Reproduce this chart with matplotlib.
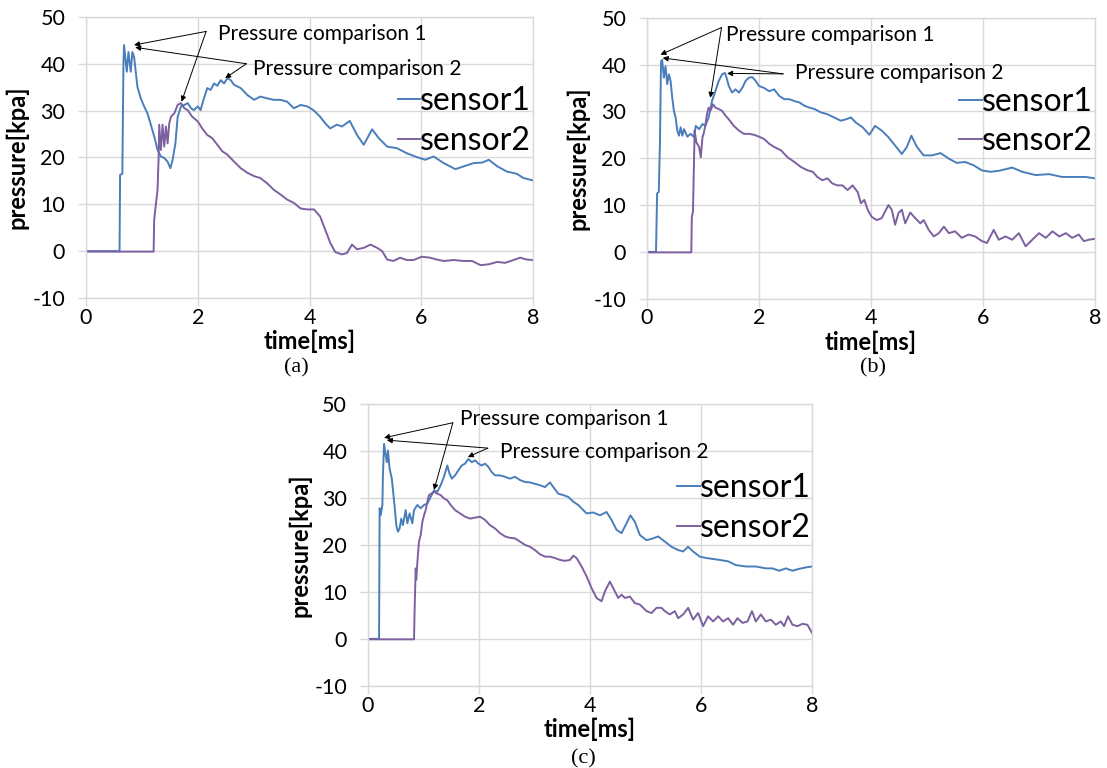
import matplotlib
matplotlib.use('Agg')
import matplotlib.pyplot as plt

plt.rcParams['font.family'] = ['Lato', 'DejaVu Sans']
plt.rcParams['axes.unicode_minus'] = False

# ---- panel (a) ----
t_a1 = [0, 0.60, 0.61, 0.65, 0.67, 0.68, 0.73, 0.76, 0.80, 0.83,
        0.86, 0.92, 0.98, 1.04, 1.10, 1.16, 1.22, 1.28, 1.34, 1.40,
        1.46, 1.51, 1.55, 1.60, 1.64, 1.70, 1.76, 1.82, 1.88, 1.93,
        2.00, 2.05, 2.11, 2.17, 2.23, 2.29, 2.35, 2.41, 2.47, 2.53,
        2.59, 2.65, 2.77, 2.89, 3.01, 3.12, 3.24, 3.36, 3.48, 3.60,
        3.72, 3.84, 3.96, 4.07, 4.19, 4.28, 4.37, 4.49, 4.58, 4.72,
        4.85, 4.97, 5.12, 5.24, 5.39, 5.56, 5.74, 5.89, 6.07, 6.22,
        6.40, 6.61, 6.76, 6.94, 7.09, 7.21, 7.36, 7.53, 7.71, 7.83, 8.00]
p_a1 = [0, 0, 16.3, 16.5, 40, 44, 38.3, 42.5, 38.3, 42.5,
        41.5, 35.1, 32.6, 30.9, 29.4, 27, 24.5, 21.6, 20.2, 19.9,
        19.1, 17.7, 19.5, 23, 28.7, 30.9, 31.2, 31.6, 30.5, 30.1,
        30.9, 30.1, 32.6, 34.8, 34.4, 35.8, 35.3, 36.5, 35.8, 36.9,
        36.5, 35.5, 34.8, 33.3, 32.3, 33, 32.6, 32.3, 32.3, 31.9,
        30.5, 31.2, 30.9, 30.1, 28.7, 27.3, 26.2, 27, 26.6, 27.8,
        24.8, 22.7, 26, 24.1, 22.3, 22, 20.9, 20.2, 19.5, 20.2,
        18.8, 17.5, 18.1, 18.8, 18.9, 19.5, 18.1, 17, 16.5, 15.6, 15.1]
t_a2 = [0, 1.21, 1.22, 1.24, 1.28, 1.30, 1.31, 1.34, 1.37, 1.40,
        1.43, 1.46, 1.49, 1.52, 1.58, 1.64, 1.70, 1.76, 1.82, 1.90,
        2.00, 2.08, 2.17, 2.26, 2.35, 2.44, 2.53, 2.65, 2.77, 2.89,
        3.01, 3.12, 3.24, 3.36, 3.48, 3.60, 3.72, 3.84, 3.96, 4.08,
        4.19, 4.28, 4.37, 4.46, 4.58, 4.67, 4.76, 4.85, 4.97, 5.09,
        5.21, 5.30, 5.39, 5.50, 5.62, 5.74, 5.86, 6.01, 6.16, 6.28,
        6.40, 6.58, 6.76, 6.91, 7.06, 7.21, 7.36, 7.50, 7.65, 7.77,
        7.89, 8.00]
p_a2 = [-0.1, -0.1, 6.7, 8.9, 13.1, 20.2, 27, 21.6, 27, 22.3,
        26.6, 23, 27.3, 28.7, 29.4, 31.2, 31.6, 30.5, 30.1, 28.7,
        27.7, 26.2, 24.8, 24.1, 22.7, 21.3, 20.6, 19.1, 17.7, 16.7,
        16, 15.6, 14.5, 13.1, 12.1, 11, 10.3, 9.1, 8.9, 8.9,
        7.4, 4.6, 1.8, -0.2, -0.7, -0.4, 1.4, 0.4, 0.7, 1.4,
        0.7, 0, -1.8, -2.1, -1.4, -1.9, -1.9, -1.2, -1.4, -1.8,
        -2.1, -1.9, -2.1, -2.1, -3, -2.8, -2.3, -2.5, -1.9, -1.4,
        -1.8, -1.9]

# ---- panel (b) ----
t_b1 = [0, 0.16, 0.18, 0.21, 0.23, 0.25, 0.27, 0.30, 0.33, 0.36,
        0.39, 0.42, 0.45, 0.48, 0.51, 0.54, 0.57, 0.60, 0.63, 0.66,
        0.72, 0.78, 0.84, 0.87, 0.93, 0.99, 1.04, 1.10, 1.16, 1.22,
        1.28, 1.34, 1.39, 1.42, 1.46, 1.52, 1.58, 1.64, 1.70, 1.76,
        1.82, 1.88, 1.94, 2.00, 2.09, 2.18, 2.27, 2.36, 2.45, 2.54,
        2.63, 2.72, 2.81, 2.90, 2.99, 3.10, 3.22, 3.34, 3.46, 3.55,
        3.64, 3.73, 3.85, 3.97, 4.07, 4.19, 4.31, 4.43, 4.55, 4.64,
        4.72, 4.82, 4.94, 5.09, 5.24, 5.39, 5.53, 5.68, 5.83, 5.98,
        6.13, 6.28, 6.52, 6.70, 6.94, 7.18, 7.41, 7.65, 7.83, 8.00]
p_b1 = [0, 0, 12.5, 12.8, 23, 40.7, 41, 37.2, 39.6, 35.8,
        37.9, 36.5, 32.9, 30.1, 28.7, 25.9, 24.8, 26.6, 24.8, 26.2,
        24.6, 25.2, 24.5, 26.9, 26.2, 27.3, 26.9, 28.7, 32.2, 34.3,
        36.5, 37.9, 38.2, 37.2, 35.4, 34, 34.7, 34, 35, 36.5,
        37.2, 37.3, 36.5, 35.4, 35, 34.3, 34.7, 33.3, 32.6, 32.6,
        32.2, 31.9, 31.2, 30.8, 30.5, 29.8, 29.4, 28.7, 28, 28.3,
        28.7, 27.6, 26.6, 25, 26.9, 25.9, 24.5, 22.7, 20.9, 22.4,
        24.8, 22.4, 20.6, 20.6, 21.1, 19.9, 19, 19.2, 18.5, 17.4,
        17.1, 17.3, 18, 17.1, 16.4, 16.6, 16, 16, 16, 15.7]
t_b2 = [0, 0.79, 0.80, 0.82, 0.84, 0.85, 0.88, 0.93, 0.96, 0.99,
        1.01, 1.04, 1.07, 1.10, 1.13, 1.18, 1.22, 1.28, 1.34, 1.40,
        1.46, 1.55, 1.64, 1.73, 1.82, 1.91, 2.00, 2.09, 2.18, 2.27,
        2.39, 2.51, 2.63, 2.75, 2.87, 2.96, 3.04, 3.13, 3.22, 3.31,
        3.40, 3.49, 3.58, 3.67, 3.76, 3.82, 3.88, 3.94, 4.01, 4.10,
        4.19, 4.25, 4.31, 4.37, 4.43, 4.49, 4.55, 4.61, 4.70, 4.79,
        4.88, 4.94, 5.03, 5.12, 5.21, 5.30, 5.39, 5.50, 5.62, 5.74,
        5.86, 5.98, 6.07, 6.19, 6.28, 6.40, 6.52, 6.64, 6.76, 6.88,
        7.00, 7.12, 7.24, 7.36, 7.48, 7.59, 7.71, 7.80, 7.89, 8.00]
p_b2 = [-0.1, -0.1, 7.5, 8.6, 20.2, 25.9, 23.4, 22.4, 20.2, 24.5,
        25.2, 26.9, 29.4, 30.8, 30.1, 31.5, 30.8, 30.5, 30.1, 29.1,
        28.3, 26.9, 25.9, 25.2, 25.2, 25, 24.6, 24.1, 23.1, 22.4,
        21.7, 20.2, 19.2, 18.1, 17.4, 17.1, 16, 15.3, 15.7, 14.6,
        14.2, 14.2, 13.2, 14.2, 12.8, 10.4, 11.1, 9, 7.5, 6.8,
        7.2, 8.6, 10, 9, 5.8, 8.3, 9, 6.1, 8.4, 7.2,
        6.1, 6.8, 4.7, 3.3, 4, 5.4, 4, 4.4, 3, 3.7,
        3.3, 2.3, 1.9, 4.7, 2.6, 3.3, 2.6, 4, 1.2, 2.6,
        4, 3, 4.4, 3.3, 4, 3, 3.7, 2.3, 2.6, 2.8]

# ---- panel (c) ----
t_c1 = [0, 0.20, 0.21, 0.23, 0.26, 0.27, 0.29, 0.31, 0.34, 0.36,
        0.39, 0.43, 0.46, 0.49, 0.51, 0.54, 0.57, 0.60, 0.63, 0.68,
        0.71, 0.75, 0.80, 0.83, 0.89, 0.95, 1.01, 1.07, 1.13, 1.19,
        1.25, 1.31, 1.37, 1.43, 1.47, 1.51, 1.57, 1.63, 1.69, 1.75,
        1.81, 1.87, 1.93, 1.99, 2.05, 2.11, 2.17, 2.23, 2.29, 2.38,
        2.47, 2.56, 2.65, 2.74, 2.83, 2.92, 3.01, 3.10, 3.19, 3.28,
        3.34, 3.43, 3.52, 3.61, 3.70, 3.79, 3.88, 3.94, 4.06, 4.18,
        4.30, 4.39, 4.48, 4.57, 4.66, 4.73, 4.81, 4.90, 5.02, 5.14,
        5.23, 5.35, 5.47, 5.59, 5.68, 5.77, 5.86, 5.98, 6.10, 6.22,
        6.34, 6.49, 6.63, 6.81, 6.99, 7.17, 7.29, 7.41, 7.53, 7.65,
        7.77, 7.89, 8.00]
p_c1 = [0, 0, 27.8, 26.3, 28.5, 35, 41.5, 39.8, 37.6, 40.1,
        36.2, 34.1, 30.6, 27, 24.2, 22.8, 23.5, 25.6, 24.2, 27.4,
        24.6, 26.7, 24.6, 27.4, 28.5, 27.8, 28.5, 28.8, 30.2, 31.6,
        31.3, 32.7, 34.5, 36.9, 35.2, 34.1, 34.8, 35.9, 36.9, 37.3,
        38.3, 37.6, 38, 37.3, 36.9, 37.3, 36.6, 35.5, 34.8, 34.8,
        34.5, 34.1, 34.5, 33.8, 33.4, 33.3, 33, 32.7, 32.3, 33.3,
        32.3, 30.9, 30.6, 30.2, 29.2, 28.5, 27.4, 26.7, 26.9, 26.3,
        27, 25.3, 23.2, 22.5, 24.6, 26.3, 24.9, 22.1, 21, 21.4,
        21.8, 20.7, 19.6, 18.9, 18.6, 19.6, 18.6, 17.5, 17.2, 17,
        16.8, 16.5, 15.7, 15.4, 15.4, 15, 15, 14.5, 15, 14.5,
        14.9, 15.2, 15.4]
t_c2 = [0, 0.83, 0.84, 0.86, 0.87, 0.90, 0.92, 0.95, 0.98, 1.01,
        1.04, 1.07, 1.10, 1.14, 1.19, 1.25, 1.31, 1.37, 1.43, 1.49,
        1.57, 1.66, 1.75, 1.84, 1.93, 2.02, 2.11, 2.20, 2.29, 2.38,
        2.47, 2.56, 2.65, 2.74, 2.83, 2.92, 3.01, 3.10, 3.19, 3.28,
        3.37, 3.46, 3.55, 3.64, 3.70, 3.76, 3.85, 3.94, 4.03, 4.12,
        4.21, 4.27, 4.36, 4.42, 4.51, 4.57, 4.63, 4.72, 4.81, 4.90,
        5.02, 5.11, 5.20, 5.29, 5.35, 5.44, 5.53, 5.59, 5.68, 5.77,
        5.86, 5.95, 6.04, 6.13, 6.22, 6.31, 6.40, 6.49, 6.58, 6.66,
        6.75, 6.84, 6.92, 6.99, 7.08, 7.17, 7.26, 7.35, 7.44, 7.50,
        7.57, 7.65, 7.74, 7.83, 7.92, 8.00]
p_c2 = [-0.1, -0.1, 5.9, 15, 12.6, 17.9, 20.7, 22.1, 24.9, 26.3,
        27.4, 29.2, 30.6, 30.9, 31.3, 30.9, 30.6, 29.9, 29.5, 28.5,
        27.4, 26.7, 26, 25.6, 25.8, 26, 25.3, 24.2, 23.5, 22.5,
        21.8, 21.5, 21.4, 20.7, 20, 19.6, 18.9, 18, 17.5, 17.5,
        17.2, 16.8, 16.6, 16.8, 17.7, 17.2, 15.4, 13.3, 10.8, 8.7,
        8, 10.1, 12.2, 10.8, 8.7, 9.4, 8.7, 9, 7.6, 7.3,
        5.9, 5.5, 6.6, 6.6, 5.9, 5.2, 5.9, 4.4, 5.2, 6.6,
        4.1, 5.5, 2.7, 4.8, 3.7, 4.8, 3.7, 4.4, 3, 4.4,
        3.4, 3.7, 5.9, 3.7, 5.2, 3.7, 4.1, 3, 3.7, 2.7,
        4.8, 3, 2.7, 3.2, 3, 1.3]

x_ticks = [0, 2, 4, 6, 8]
y_ticks = [-10, 0, 10, 20, 30, 40, 50]
labels = ['sensor1', 'sensor2']
note1 = 'Pressure comparison 1'
note2 = 'Pressure comparison 2'

BLUE = '#4a7ebb'
PURPLE = '#7d60a0'
GRID = '#d9d9d9'

# panel: rect, data, caption pos, annotation geometry (text pos, arrow origin, targets)
panels = [
    dict(rect=[0.0777, 0.612, 0.4038, 0.366], t1=t_a1, p1=p_a1, t2=t_a2, p2=p_a2,
         cap='(a)', cap_xy=(0.268, 0.521),
         n1=((2.36, 46.4), (2.15, 46.9), [(0.86, 44.0), (1.71, 31.9)]),
         n2=((2.99, 38.9), (2.87, 40.0), [(0.88, 43.5), (2.49, 36.9)])),
    dict(rect=[0.5845, 0.611, 0.4047, 0.366], t1=t_b1, p1=p_b1, t2=t_b2, p2=p_b2,
         cap='(b)', cap_xy=(0.789, 0.521),
         n1=((1.41, 46.2), (1.33, 47.9), [(0.24, 42.1), (1.13, 32.9)]),
         n2=((2.64, 38.1), (2.43, 38.0), [(0.28, 41.4), (1.43, 38.1)])),
    dict(rect=[0.3324, 0.107, 0.401, 0.367], t1=t_c1, p1=p_c1, t2=t_c2, p2=p_c2,
         cap='(c)', cap_xy=(0.527, 0.012),
         n1=((1.66, 46.8), (1.53, 46.0), [(0.29, 42.8), (1.19, 31.7)]),
         n2=((2.38, 39.8), (2.16, 40.6), [(0.34, 42.3), (1.80, 38.7)])),
]

fig = plt.figure(figsize=(11.07, 7.68), dpi=100)

for pn in panels:
    ax = fig.add_axes(pn['rect'])
    ax.plot(pn['t1'], pn['p1'], color=BLUE, lw=1.4, label=labels[0])
    ax.plot(pn['t2'], pn['p2'], color=PURPLE, lw=1.4, label=labels[1])
    ax.set_xlim(0, 8)
    ax.set_ylim(-10, 50)
    ax.set_xticks(x_ticks)
    ax.set_yticks(y_ticks)
    ax.grid(True, color=GRID, lw=1.0)
    ax.set_axisbelow(True)
    for s in ax.spines.values():
        s.set_color(GRID)
        s.set_linewidth(1.0)
    ax.tick_params(axis='both', length=6, color=GRID, width=1.0, labelsize=15.5)
    ax.tick_params(axis='y', pad=9)
    ax.tick_params(axis='x', pad=1)
    ax.set_xlabel('time[ms]', fontsize=17, fontweight='bold')
    ax.set_ylabel('pressure[kpa]', fontsize=17, fontweight='bold')
    ax.xaxis.set_label_coords(0.5, -0.112)
    ax.yaxis.set_label_coords(-0.128, 0.5)

    for key, txt in (('n1', note1), ('n2', note2)):
        txy, org, targets = pn[key]
        ax.text(txy[0], txy[1], txt, fontsize=15, va='center', ha='left')
        for tg in targets:
            ax.annotate('', xy=tg, xytext=org,
                        arrowprops=dict(arrowstyle='-|>', color='black', lw=0.7,
                                        mutation_scale=8, shrinkA=0, shrinkB=0))

    ax.legend(loc='upper left', bbox_to_anchor=(0.69, 0.765), fontsize=23,
              frameon=False, handlelength=0.7, handletextpad=0.0,
              borderpad=0.1, borderaxespad=0, labelspacing=0.3)

    fig.text(pn['cap_xy'][0], pn['cap_xy'][1], pn['cap'], fontsize=16,
             family='Liberation Serif', ha='center', va='center')

fig.savefig('out.png', dpi=100)
